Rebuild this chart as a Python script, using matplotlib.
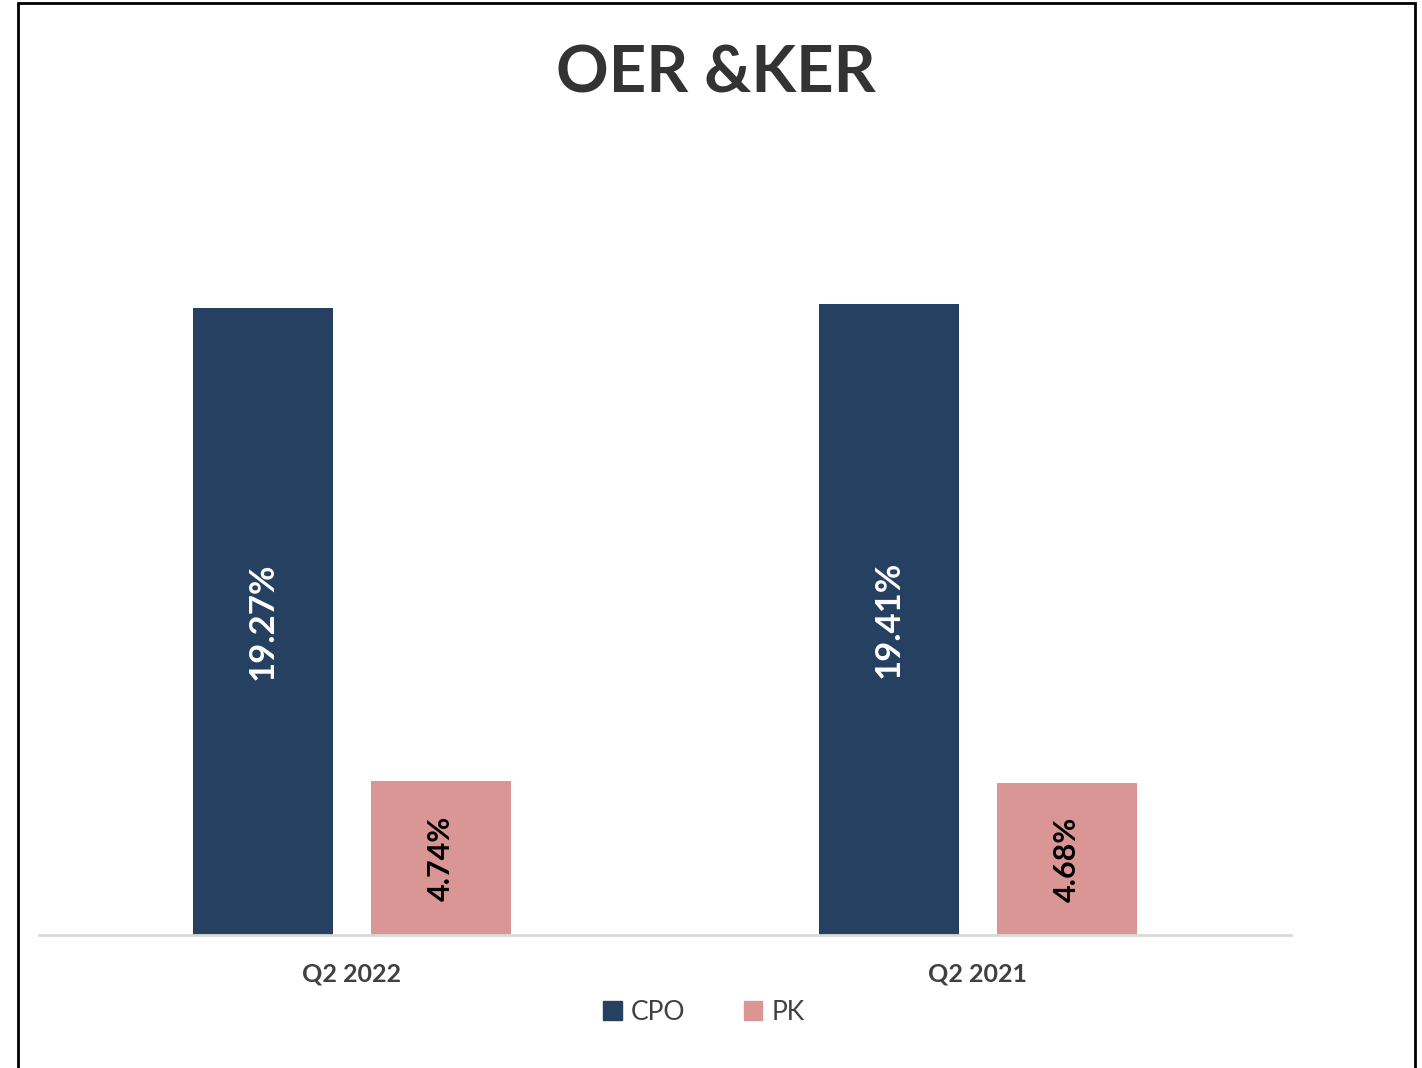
import matplotlib.pyplot as plt
import numpy as np
from matplotlib.patches import Rectangle, Patch

categories = ["Q2 2022", "Q2 2021"]
cpo = [19.27, 19.41]
pk = [4.74, 4.68]
series_names = ["CPO", "PK"]

navy = "#264061"
pink = "#D99694"

plt.rcParams['font.family'] = ['Lato', 'DejaVu Sans']

fig = plt.figure(figsize=(14.22, 10.68), dpi=100)
ax = fig.add_axes([39/1422, 133/1068, 1252/1422, 813/1068])

x = np.arange(len(categories))
w = 0.2236
off = 0.1425
b1 = ax.bar(x - off, cpo, w, color=navy)
b2 = ax.bar(x + off, pk, w, color=pink)

# labels sit in the middle of each bar, turned on their side
for r, v in zip(b1, cpo):
    ax.text(r.get_x() + r.get_width()/2, v/2, f"{v:.2f}%", rotation=90,
            ha='center', va='center', color='white', fontsize=25, fontweight='bold')
for r, v in zip(b2, pk):
    ax.text(r.get_x() + r.get_width()/2, v/2, f"{v:.2f}%", rotation=90,
            ha='center', va='center', color='black', fontsize=22, fontweight='bold')

ax.set_xlim(-0.5, 1.5)
ax.set_ylim(0, 25)
ax.set_xticks(x)
ax.set_xticklabels(categories, fontsize=18, fontweight='bold', color='#404040')
ax.tick_params(axis='x', length=0, pad=20)
ax.set_yticks([])
for s in ['top', 'right', 'left']:
    ax.spines[s].set_visible(False)
ax.spines['bottom'].set_color('#D9D9D9')
ax.spines['bottom'].set_linewidth(2)

fig.text(716/1422, 1 - 74/1068, "OER &KER", ha='center', va='center',
         fontsize=47, fontweight='bold', color='#333333')

handles = [Patch(color=navy), Patch(color=pink)]
fig.legend(handles, series_names, loc='center', bbox_to_anchor=(704/1422, 1 - 1012/1068),
           ncol=2, frameon=False, fontsize=19, handlelength=0.7, handleheight=0.7,
           columnspacing=2.2, handletextpad=0.35, labelcolor='#404040')

# outer frame, open at the bottom like the cropped original
fig.patches.append(Rectangle((18/1422, -0.05), (1415-18)/1422, 1.05 - 3/1068,
                             transform=fig.transFigure, fill=False, edgecolor='black',
                             linewidth=2))

fig.savefig("out.png", dpi=100)
